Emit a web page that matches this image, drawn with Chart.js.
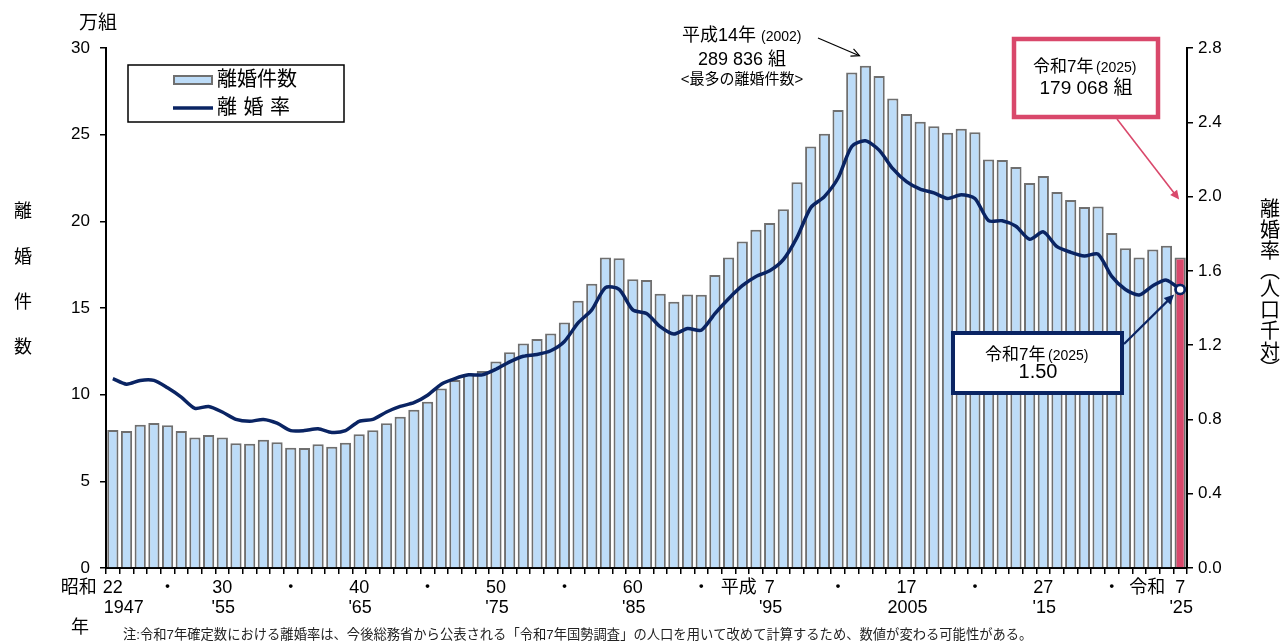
<!DOCTYPE html>
<html><head><meta charset="utf-8">
<script src="https://cdn.jsdelivr.net/npm/chart.js@4.4.1/dist/chart.umd.min.js"></script>
<style>html,body{margin:0;padding:0;background:#fff}#wrap{width:1281px;height:642px;position:relative}</style>
</head><body><div id="wrap"><canvas id="c" width="1281" height="642"></canvas></div>
<script>
const years = [1947,1948,1949,1950,1951,1952,1953,1954,1955,1956,1957,1958,1959,1960,1961,1962,1963,1964,1965,1966,1967,1968,1969,1970,1971,1972,1973,1974,1975,1976,1977,1978,1979,1980,1981,1982,1983,1984,1985,1986,1987,1988,1989,1990,1991,1992,1993,1994,1995,1996,1997,1998,1999,2000,2001,2002,2003,2004,2005,2006,2007,2008,2009,2010,2011,2012,2013,2014,2015,2016,2017,2018,2019,2020,2021,2022,2023,2024,2025];
// 離婚件数（万組）
const divorceCounts = [7.96,7.90,8.26,8.37,8.23,7.90,7.53,7.68,7.53,7.20,7.17,7.40,7.25,6.94,6.93,7.14,7.00,7.23,7.72,7.94,8.35,8.73,9.13,9.59,10.36,10.84,11.19,11.36,11.91,12.45,12.95,13.21,13.53,14.17,15.42,16.40,17.92,17.87,16.66,16.61,15.82,15.36,15.78,15.76,16.90,17.92,18.83,19.51,19.90,20.70,22.26,24.32,25.05,26.42,28.59,28.98,28.39,27.08,26.19,25.75,25.48,25.11,25.34,25.14,23.57,23.54,23.14,22.21,22.62,21.69,21.23,20.83,20.85,19.33,18.44,17.91,18.38,18.59,17.91];
// 離婚率（人口千対）
const divorceRates = [1.02,0.99,1.01,1.01,0.97,0.92,0.86,0.87,0.84,0.80,0.79,0.80,0.78,0.74,0.74,0.75,0.73,0.74,0.79,0.80,0.84,0.87,0.89,0.93,0.99,1.02,1.04,1.04,1.07,1.11,1.14,1.15,1.17,1.22,1.32,1.39,1.51,1.50,1.39,1.37,1.30,1.26,1.29,1.28,1.37,1.45,1.52,1.57,1.60,1.66,1.78,1.94,2.00,2.10,2.27,2.30,2.25,2.15,2.08,2.04,2.02,1.99,2.01,1.99,1.87,1.87,1.84,1.77,1.81,1.73,1.70,1.68,1.69,1.57,1.50,1.47,1.52,1.55,1.50];
const xLabelYears  = [1947,1951,1955,1960,1965,1970,1975,1980,1985,1990,1995,2000,2005,2010,2015,2020,2025];
const xLabelTop    = ['22','・','30','・','40','・','50','・','60','・','7','・','17','・','27','・','7'];
const xLabelBottom = ['1947','',"'55",'',"'65",'',"'75",'',"'85",'',"'95",'','2005','',"'15",'',"'25"];
const eraYears  = [1947,1995,2025];
const eraNames  = ['昭和','平成','令和'];
const countTicksMax = 30, countTicksStep = 5;
const rateTicksMax = 2.8, rateTicksStep = 0.4;

const FONT = "'Liberation Sans','Noto Sans CJK JP',sans-serif";
const NAVY = '#0a2463';
const RED = '#d9486b';
const lastIdx = years.length - 1;

const barColors = years.map((y,i)=> i===lastIdx ? RED : '#bddcf8');

function arrow(ctx,x1,y1,x2,y2,color,w,filled,head){
  ctx.save();
  ctx.strokeStyle=color; ctx.fillStyle=color; ctx.lineWidth=w;
  const a=Math.atan2(y2-y1,x2-x1);
  ctx.beginPath(); ctx.moveTo(x1,y1);
  ctx.lineTo(filled? x2-Math.cos(a)*head*0.8 : x2, filled? y2-Math.sin(a)*head*0.8 : y2); ctx.stroke();
  ctx.beginPath();
  ctx.moveTo(x2-Math.cos(a-0.45)*head, y2-Math.sin(a-0.45)*head);
  ctx.lineTo(x2,y2);
  ctx.lineTo(x2-Math.cos(a+0.45)*head, y2-Math.sin(a+0.45)*head);
  if(filled){ctx.closePath();ctx.fill();} else ctx.stroke();
  ctx.restore();
}

const decor = {
  id:'decor',
  afterDraw(chart){
    const ctx=chart.ctx, xs=chart.scales.x, yl=chart.scales.y, yr=chart.scales.y1;
    ctx.save();
    ctx.fillStyle='#000'; ctx.textBaseline='middle';
    // x labels
    ctx.font='18px '+FONT; ctx.textAlign='center';
    xLabelYears.forEach((yr,i)=>{
      const x=xs.getPixelForValue(years.indexOf(yr));
      ctx.fillText(xLabelTop[i],x,588);
      if(xLabelBottom[i]) ctx.fillText(xLabelBottom[i], x + (i===0?11:1), 608);
      const e=eraYears.indexOf(yr);
      if(e>=0){
        const w=ctx.measureText(xLabelTop[i]).width;
        const gap = yr===1947?6:(yr===1995?8:10);
        ctx.textAlign='right';
        ctx.fillText(eraNames[e], x - w/2 - gap, 588);
        ctx.textAlign='center';
      }
    });
    ctx.fillText('年',80,628);
    // unit
    ctx.font='19px '+FONT; ctx.fillText('万組',98,24);
    // left axis title
    ctx.font='18px '+FONT;
    [['離',212],['婚',258],['件',303],['数',348]].forEach(([c,y])=>ctx.fillText(c,23,y));
    // right axis title (vertical)
    ctx.font='20px '+FONT;
    [['離',210],['婚',231],['率',252],['︵',272],['人',290],['口',311],['千',332],['対',353],['︶',370]].forEach(([c,y])=>ctx.fillText(c,1270,y));
    // legend
    ctx.fillStyle='#fff'; ctx.fillRect(128,65,216,57);
    ctx.strokeStyle='#000'; ctx.lineWidth=1.5; ctx.strokeRect(128,65,216,57);
    ctx.fillStyle='#bddcf8'; ctx.fillRect(174,76,38,8);
    ctx.strokeStyle='#707070'; ctx.lineWidth=2; ctx.strokeRect(174,76,38,8);
    ctx.strokeStyle=NAVY; ctx.lineWidth=3.5; ctx.beginPath(); ctx.moveTo(173,108); ctx.lineTo(213,108); ctx.stroke();
    ctx.fillStyle='#000'; ctx.font='20px '+FONT; ctx.textAlign='left';
    ctx.fillText('離婚件数',217,80);
    ctx.fillText('離',217,108); ctx.fillText('婚',243.5,108); ctx.fillText('率',270,108);
    // annotation 2002
    const i02=years.indexOf(2002);
    const x02=xs.getPixelForValue(i02), y02=yl.getPixelForValue(divorceCounts[i02]);
    ctx.textAlign='left';
    ctx.font='18px '+FONT; ctx.fillText('平成14年',682,36);
    ctx.font='14px '+FONT; ctx.fillText('(2002)',761,37);
    ctx.textAlign='center';
    ctx.font='18px '+FONT; ctx.fillText('289 836 組',742,60);
    ctx.font='15px '+FONT; ctx.fillText('<最多の離婚件数>',742,80);
    arrow(ctx,818,38,x02-6,y02-10,'#000',1.2,false,9);
    // red box 2025 count
    const xl=xs.getPixelForValue(lastIdx), ylc=yl.getPixelForValue(divorceCounts[lastIdx]);
    arrow(ctx,1117,119,xl-1,ylc-58,RED,1.6,true,10);
    ctx.fillStyle='#fff'; ctx.fillRect(1014,39,144,78);
    ctx.strokeStyle=RED; ctx.lineWidth=4.5; ctx.strokeRect(1014,39,144,78);
    ctx.fillStyle='#000'; ctx.textAlign='left';
    ctx.font='17px '+FONT; ctx.fillText('令和7年',1033,67);
    ctx.font='14px '+FONT; ctx.fillText('(2025)',1096,68);
    ctx.textAlign='center'; ctx.font='19px '+FONT; ctx.fillText('179 068 組',1086,89);
    // navy box 2025 rate
    const yrp=yr.getPixelForValue(divorceRates[lastIdx]);
    arrow(ctx,1124,344,xl-6,yrp+5,NAVY,2.2,true,11);
    ctx.fillStyle='#fff'; ctx.fillRect(953,333,169,60);
    ctx.strokeStyle=NAVY; ctx.lineWidth=4; ctx.strokeRect(953,333,169,60);
    ctx.fillStyle='#000'; ctx.textAlign='left';
    ctx.font='17px '+FONT; ctx.fillText('令和7年',985,355);
    ctx.font='14px '+FONT; ctx.fillText('(2025)',1048,356);
    ctx.textAlign='center'; ctx.font='20px '+FONT; ctx.fillText('1.50',1038,372);
    // last point marker on top
    ctx.beginPath(); ctx.arc(xl,yrp,4.5,0,Math.PI*2); ctx.fillStyle='#fff'; ctx.fill();
    ctx.lineWidth=2.5; ctx.strokeStyle=NAVY; ctx.stroke();
    // footnote
    ctx.fillStyle='#222'; ctx.textAlign='left'; ctx.font='13.3px '+FONT;
    ctx.fillText('注:令和7年確定数における離婚率は、今後総務省から公表される「令和7年国勢調査」の人口を用いて改めて計算するため、数値が変わる可能性がある。',123,635);
    ctx.restore();
  }
};

new Chart(document.getElementById('c'),{
  data:{
    labels: years,
    datasets:[
      {type:'line', label:'離婚率', data:divorceRates, yAxisID:'y1', borderColor:NAVY, borderWidth:3.5, tension:0.25,
       pointRadius: years.map((y,i)=> i===lastIdx?4.5:0), pointBackgroundColor:'#fff', pointBorderColor:NAVY, pointBorderWidth:2.5, order:0},
      {type:'bar', label:'離婚件数', data:divorceCounts, yAxisID:'y', backgroundColor:barColors, borderColor:'#6f6f6f', borderWidth:2,
       categoryPercentage:1, barPercentage:0.82, order:1}
    ]
  },
  options:{
    responsive:false, animation:false, devicePixelRatio:1,
    layout:{padding:{top:48,left:0,right:0,bottom:0}},
    plugins:{legend:{display:false}, tooltip:{enabled:false}},
    scales:{
      x:{type:'category', offset:true,
         grid:{display:true, offset:true, drawOnChartArea:false, drawTicks:true, tickLength:6, color:'#000', lineWidth:1.5},
         border:{display:true, color:'#000', width:2},
         ticks:{display:false, autoSkip:false},
         afterFit(s){s.height=74;}},
      y:{position:'left', min:0, max:countTicksMax,
         ticks:{stepSize:countTicksStep, color:'#000', font:{family:FONT,size:17}, padding:10},
         grid:{display:true, drawOnChartArea:false, drawTicks:true, tickLength:6, color:'#000', lineWidth:1.5},
         border:{display:true,color:'#000',width:2},
         afterFit(s){s.width=106;}},
      y1:{position:'right', min:0, max:rateTicksMax,
         ticks:{stepSize:rateTicksStep, color:'#000', font:{family:FONT,size:17}, padding:5, callback:v=>Number(v).toFixed(1)},
         grid:{display:true, drawOnChartArea:false, drawTicks:true, tickLength:6, color:'#000', lineWidth:1.5},
         border:{display:true,color:'#000',width:2},
         afterFit(s){s.width=94;}}
    }
  },
  plugins:[decor]
});
</script></body></html>
